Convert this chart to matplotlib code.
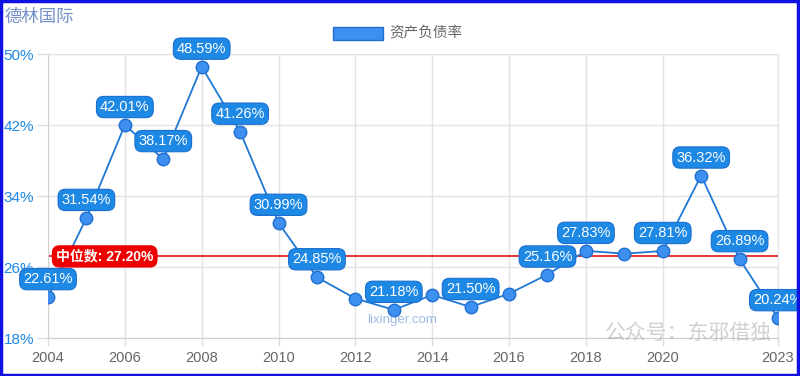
import matplotlib
matplotlib.use('Agg')
import matplotlib.pyplot as plt
import matplotlib.transforms as mtransforms
from matplotlib.patches import Rectangle

plt.rcParams['font.family'] = ['Liberation Sans', 'Noto Sans CJK SC', 'DejaVu Sans']

# datos -------
years = list(range(2004, 2024))
ratio = [22.61, 31.54, 42.01, 38.17, 48.59, 41.26, 30.99, 24.85, 22.45, 21.18,
         22.85, 21.50, 23.00, 25.16, 27.83, 27.51, 27.81, 36.32, 26.89, 20.24]
labeled_years = [2004, 2005, 2006, 2007, 2008, 2009, 2010, 2011, 2013, 2015,
                 2017, 2018, 2020, 2021, 2022, 2023]
median_value = 27.20
x_ticks = [2004, 2006, 2008, 2010, 2012, 2014, 2016, 2018, 2020, 2023]
y_ticks = [18, 26, 34, 42, 50]
title = '德林国际'
series_name = '资产负债率'

blue = '#1e88e5'
line_blue = '#1f78d6'

fig = plt.figure(figsize=(8, 3.76), dpi=100)
ax = fig.add_axes([0.06, 0.101, 0.9125, 0.755])

ax.plot(years, ratio, color=line_blue, lw=1.3, marker='o', markersize=9,
        markerfacecolor='#3d8ff0', markeredgecolor='#1f6fd0', markeredgewidth=1,
        zorder=3)

# linea de mediana
ax.axhline(median_value, color='#e00000', lw=1.1, zorder=2)
trans = mtransforms.blended_transform_factory(ax.transAxes, ax.transData)
ax.annotate(f'中位数: {median_value:.2f}%', xy=(0, median_value), xycoords=trans,
            xytext=(8, 0), textcoords='offset pixels', ha='left', va='center',
            color='white', fontsize=10, fontweight='bold', zorder=6,
            bbox=dict(boxstyle='round,pad=0.25,rounding_size=0.5', fc='#ee0000', ec='#ee0000'))

# etiquetas de datos
for y_, v in zip(years, ratio):
    if y_ in labeled_years:
        ax.annotate(f'{v:.2f}%', xy=(y_, v), xytext=(0, 18), textcoords='offset pixels',
                    ha='center', va='center', color='white', fontsize=10.5, zorder=7,
                    annotation_clip=False,
                    bbox=dict(boxstyle='round,pad=0.25,rounding_size=0.5', fc=blue, ec='#1a6fd0', lw=0.8))

ax.set_xlim(2004, 2023)
ax.set_ylim(18, 50)
ax.set_xticks(x_ticks)
ax.set_xticklabels([str(t) for t in x_ticks])
ax.set_yticks(y_ticks)
ax.set_yticklabels([f'{t}%' for t in y_ticks])
ax.tick_params(axis='y', colors='#dddddd', labelcolor=blue, labelsize=11, length=8, width=1, pad=2)
ax.tick_params(axis='x', colors='#dddddd', labelcolor='#666666', labelsize=10.5, length=6, width=1)
ax.grid(True, color='#e3e3e3', lw=1)
for side in ['top', 'right']:
    ax.spines[side].set_color('#e3e3e3')
for side in ['left', 'bottom']:
    ax.spines[side].set_color('#d0d0d0')

# titulo y leyenda
fig.text(0.006, 0.955, title, color='#7390c8', fontsize=12.5, ha='left', va='center')
fig.patches.append(Rectangle((0.416, 0.894), 0.063, 0.035, transform=fig.transFigure,
                             fc='#3d8ff0', ec='#1f6fd0', lw=1))
fig.text(0.487, 0.911, series_name, color='#666666', fontsize=10.5, ha='left', va='center')

# marcas de agua
fig.text(0.503, 0.148, 'lixinger.com', color='#5a8fd0', alpha=0.6, fontsize=9.5,
         ha='center', va='center')
fig.text(0.86, 0.115, '公众号：东邪借独', color='#999999', alpha=0.45, fontsize=15,
         ha='center', va='center')

# marco azul
fig.patches.append(Rectangle((0.001, 0.002), 0.997, 0.995, transform=fig.transFigure,
                             fill=False, ec='#1010e0', lw=2.5))

fig.savefig('out.png', dpi=100)
